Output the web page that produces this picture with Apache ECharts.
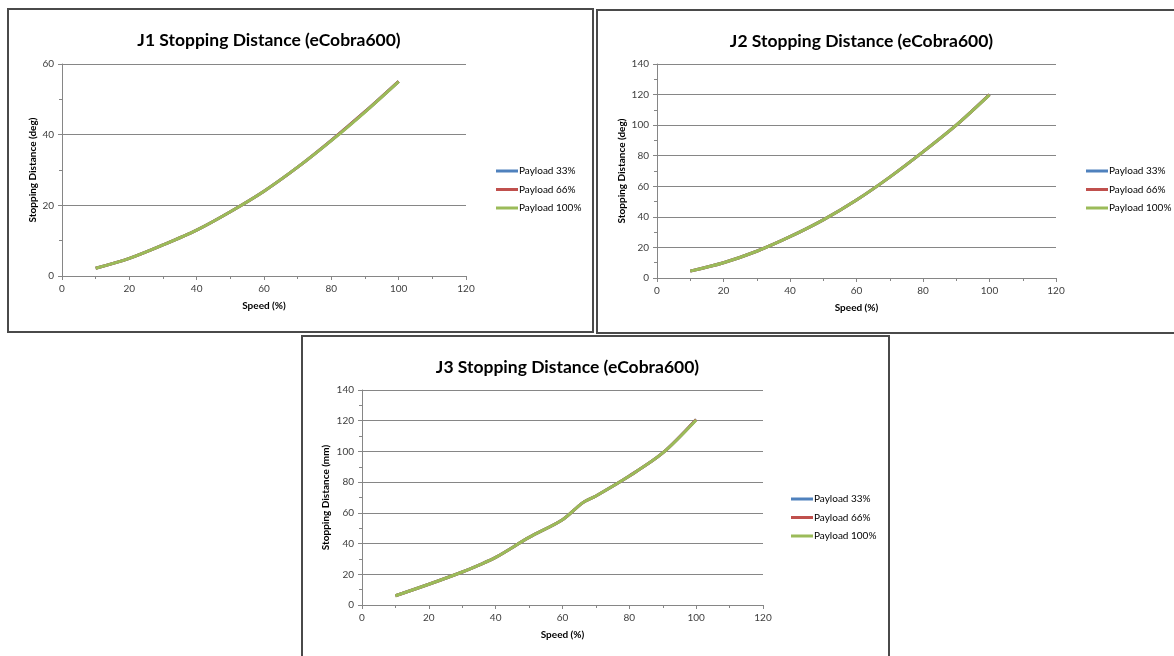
<!DOCTYPE html>
<html>
<head>
<meta charset="utf-8">
<script src="https://cdn.jsdelivr.net/npm/echarts@6/dist/echarts.min.js"></script>
<style>
html, body { margin: 0; padding: 0; background: #fff; }
body { width: 1174px; height: 656px; position: relative; overflow: hidden; }
.box { position: absolute; border: 2px solid #4a4a4a; box-sizing: border-box; background: #fff; }
#c1 { left: 7px; top: 8px; width: 587px; height: 325px; }
#c2 { left: 596px; top: 9px; width: 580px; height: 325px; }
#c3 { left: 301px; top: 335px; width: 589px; height: 330px; }
</style>
</head>
<body>
<div class="box" id="c1"></div>
<div class="box" id="c2"></div>
<div class="box" id="c3"></div>
<script>
// 数据
var seriesNames = ['Payload 33%', 'Payload 66%', 'Payload 100%'];
var seriesColors = ['#4f81bd', '#c0504d', '#9bbb59'];

var j1Speed = [10, 20, 30, 40, 50, 60, 70, 80, 90, 100];
var j1P33 = [2.2, 5, 8.8, 13, 18.2, 24, 30.8, 38.4, 46.5, 55.1];
var j1P66 = [2.2, 5, 8.8, 13, 18.2, 24, 30.8, 38.4, 46.5, 55.1];
var j1P100 = [2.2, 5, 8.8, 13, 18.2, 24, 30.8, 38.3, 46.4, 55];

var j2Speed = [10, 20, 30, 40, 50, 60, 70, 80, 90, 100];
var j2P33 = [4.5, 10, 17.5, 27, 38, 51, 66, 82.5, 100, 120];
var j2P66 = [4.5, 10, 17.5, 27, 38, 51, 66, 82.5, 100, 120];
var j2P100 = [4.5, 10, 17.5, 27, 38, 51, 66, 82.5, 100, 119.8];

var j3Speed = [10, 20, 30, 35, 40, 50, 60, 66, 70, 80, 90, 100];
var j3P33 = [6, 13.5, 21.5, 26, 31, 44, 55.5, 66.5, 71, 84, 99, 120.8];
var j3P66 = [6, 13.5, 21.5, 26, 31, 44, 55.5, 66.5, 71, 84, 99, 120.8];
var j3P100 = [6, 13.5, 21.5, 26, 31, 44, 55.5, 66.5, 71, 84, 99, 120.5];

function pairs(xs, ys) {
    var out = [];
    for (var i = 0; i < xs.length; i++) {
        out.push([xs[i], ys[i]]);
    }
    return out;
}

var axisGray = '#868686';
var textGray = '#404040';
var fontName = 'Lato, "Open Sans", sans-serif';

function makeChart(id, cfg) {
    var chart = echarts.init(document.getElementById(id), null, { renderer: 'canvas' });
    var lines = [cfg.p33, cfg.p66, cfg.p100];
    var series = [];
    for (var i = 0; i < 3; i++) {
        series.push({
            name: seriesNames[i],
            type: 'line',
            smooth: 0.3,
            showSymbol: false,
            symbol: 'none',
            lineStyle: { width: 3, color: seriesColors[i] },
            itemStyle: { color: seriesColors[i] },
            data: pairs(cfg.speed, lines[i])
        });
    }
    chart.setOption({
        animation: false,
        textStyle: { fontFamily: fontName },
        title: {
            text: cfg.title,
            left: cfg.grid.left + cfg.grid.width / 2,
            top: cfg.titleTop,
            textAlign: 'center',
            textStyle: { fontFamily: fontName, fontSize: 17.5, fontWeight: 'bold', color: '#000' }
        },
        legend: {
            orient: 'vertical',
            left: cfg.legendLeft,
            top: cfg.legendTop,
            icon: 'rect',
            itemWidth: 22,
            itemHeight: 3,
            itemGap: 8.5,
            textStyle: { fontFamily: fontName, fontSize: 10, color: '#000', padding: [0, 0, 0, -4] },
            data: seriesNames
        },
        grid: {
            left: cfg.grid.left,
            top: cfg.grid.top,
            width: cfg.grid.width,
            height: cfg.grid.height,
            containLabel: false
        },
        xAxis: {
            type: 'value',
            min: 0,
            max: 120,
            interval: 20,
            name: 'Speed (%)',
            nameLocation: 'middle',
            nameGap: 25,
            nameTextStyle: { fontFamily: fontName, fontSize: 10, fontWeight: 'bold', color: '#000' },
            axisLine: { show: true, lineStyle: { color: axisGray, width: 1 } },
            axisTick: { show: true, length: 4, lineStyle: { color: axisGray } },
            minorTick: { show: true, splitNumber: 2, length: 3, lineStyle: { color: axisGray } },
            axisLabel: { fontFamily: fontName, fontSize: 10, color: textGray, margin: 8 },
            splitLine: { show: false }
        },
        yAxis: {
            type: 'value',
            min: 0,
            max: cfg.yMax,
            interval: 20,
            name: cfg.yName,
            nameLocation: 'middle',
            nameGap: cfg.yNameGap,
            nameMoveOverlap: false,
            nameTextStyle: { fontFamily: fontName, fontSize: 10, fontWeight: 'bold', color: '#000' },
            axisLine: { show: true, lineStyle: { color: axisGray, width: 1 } },
            axisTick: { show: true, length: 4, lineStyle: { color: axisGray } },
            minorTick: { show: true, splitNumber: 2, length: 3, lineStyle: { color: axisGray } },
            axisLabel: { fontFamily: fontName, fontSize: 10, color: textGray, margin: 8 },
            splitLine: { show: true, lineStyle: { color: axisGray, width: 1 } }
        },
        series: series
    });
    return chart;
}

makeChart('c1', {
    title: 'J1 Stopping Distance (eCobra600)',
    titleTop: 16,
    yMax: 60,
    yName: 'Stopping Distance (deg)',
    yNameGap: 24,
    grid: { left: 53, top: 54, width: 404, height: 212 },
    legendLeft: 482,
    legendTop: 151,
    speed: j1Speed, p33: j1P33, p66: j1P66, p100: j1P100
});

makeChart('c2', {
    title: 'J2 Stopping Distance (eCobra600)',
    titleTop: 16,
    yMax: 140,
    yName: 'Stopping Distance (deg)',
    yNameGap: 30,
    grid: { left: 59, top: 53, width: 399, height: 214 },
    legendLeft: 483,
    legendTop: 150,
    speed: j2Speed, p33: j2P33, p66: j2P66, p100: j2P100
});

makeChart('c3', {
    title: 'J3 Stopping Distance (eCobra600)',
    titleTop: 16,
    yMax: 140,
    yName: 'Stopping Distance (mm)',
    yNameGap: 31,
    grid: { left: 59, top: 53, width: 401, height: 215 },
    legendLeft: 483,
    legendTop: 152,
    speed: j3Speed, p33: j3P33, p66: j3P66, p100: j3P100
});
</script>
</body>
</html>
